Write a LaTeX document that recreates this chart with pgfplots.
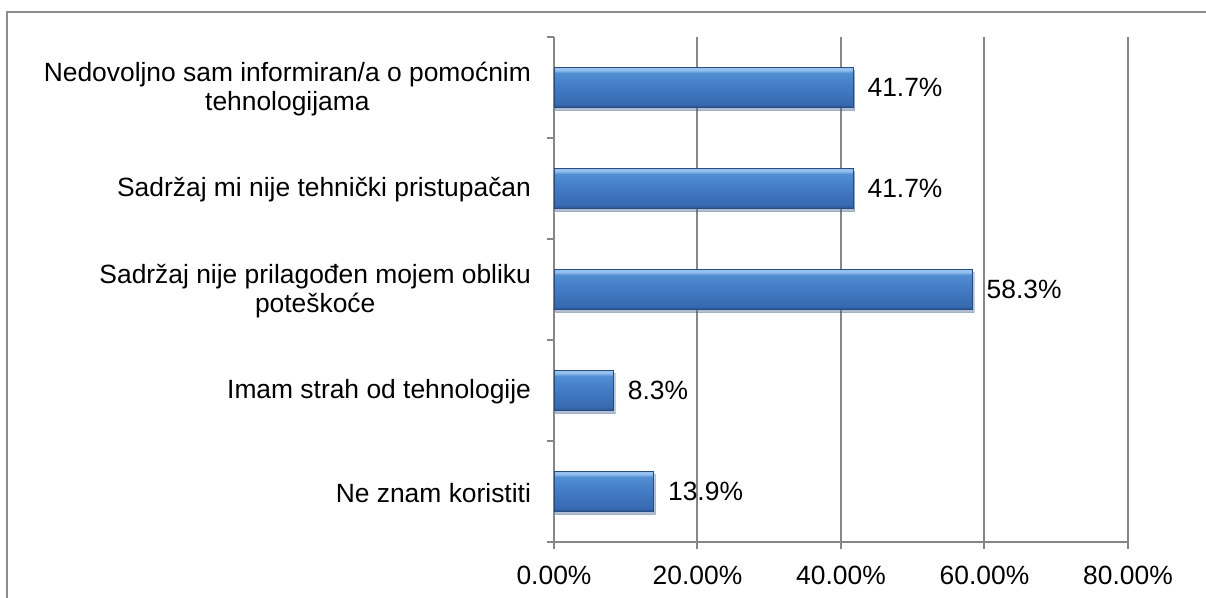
\documentclass[border=0pt]{standalone}
\usepackage{pgfplots}
\pgfplotsset{compat=1.18}
\usetikzlibrary{shadows}
\usepackage{fontspec}
\setmainfont{Liberation Sans}
\definecolor{gridgray}{HTML}{878787}
\definecolor{framegray}{HTML}{8C8C8C}
\definecolor{barhi}{RGB}{150,192,238}
\definecolor{barup}{RGB}{82,142,212}
\definecolor{barmid}{RGB}{66,122,196}
\definecolor{barlow}{RGB}{55,106,176}
\definecolor{barbot}{RGB}{40,82,140}
\definecolor{bardraw}{RGB}{38,76,128}
\pgfdeclareverticalshading{barshade}{100bp}{color(0bp)=(barbot); color(25bp)=(barbot); color(29bp)=(barlow); color(50bp)=(barmid); color(68bp)=(barup); color(72bp)=(barhi); color(75bp)=(barhi); color(100bp)=(barhi)}
\pgfplotstableread{
y val
0 13.9
1 8.3
2 58.3
3 41.7
4 41.7
}\bardata
\begin{document}
\begin{tikzpicture}[x=1pt,y=1pt]
\useasboundingbox (0,0) rectangle (603,299);
\draw[framegray, line width=0.9pt] (3.5,-3) -- (3.5,293) -- (606,293);
\begin{axis}[
  at={(277pt,28pt)}, anchor=south west,
  scale only axis, width=287pt, height=252.5pt,
  font=\fontsize{13.2}{14.5}\selectfont,
  /pgf/number format/assume math mode=true,
  xbar, bar width=20pt, bar shift=0pt,
  xmin=0, xmax=80, ymin=-0.5, ymax=4.5,
  axis lines*=left,
  axis line style={gridgray, line width=1pt, -},
  tick align=outside, major tick length=3.5pt,
  tick style={gridgray, line width=1pt},
  xtick={0,20,40,60,80},
  xticklabel={\pgfmathprintnumber[fixed,fixed zerofill,precision=2]{\tick}\%},
  xticklabel style={yshift=-5pt},
  xmajorgrids, grid style={gridgray, line width=1pt},
  ytick={-0.5,0.5,1.5,2.5,3.5,4.5}, yticklabels={},
  extra y ticks={0,1,2,3,4},
  extra y tick labels={{Ne znam koristiti},{Imam strah od tehnologije},{Sadržaj nije prilagođen mojem obliku\\poteškoće},{Sadržaj mi nije tehnički pristupačan},{Nedovoljno sam informiran/a o pomoćnim\\tehnologijama}},
  extra y tick style={tick style={draw=none}, yticklabel style={align=center, anchor=east, xshift=-4.5pt, yshift=-0.8pt}},
  point meta=x,
  nodes near coords={\pgfmathprintnumber[fixed,fixed zerofill,precision=1]{\pgfplotspointmeta}\%},
  nodes near coords align={horizontal},
  every node near coord/.append style={black, anchor=west, inner sep=0pt, xshift=7pt, font=\fontsize{13.2}{14.5}\selectfont},
  barstyle/.style={draw=bardraw, line width=0.4pt, shading=barshade, drop shadow={shadow xshift=0.8pt, shadow yshift=-1.3pt, opacity=0.25}},
]
\addplot[barstyle] table[x=val, y=y, skip coords between index={1}{5}] {\bardata};
\addplot[barstyle] table[x=val, y=y, skip coords between index={0}{1}, skip coords between index={2}{5}] {\bardata};
\addplot[barstyle] table[x=val, y=y, skip coords between index={0}{2}, skip coords between index={3}{5}] {\bardata};
\addplot[barstyle] table[x=val, y=y, skip coords between index={0}{3}, skip coords between index={4}{5}] {\bardata};
\addplot[barstyle] table[x=val, y=y, skip coords between index={0}{4}] {\bardata};
\end{axis}
\end{tikzpicture}
\end{document}
